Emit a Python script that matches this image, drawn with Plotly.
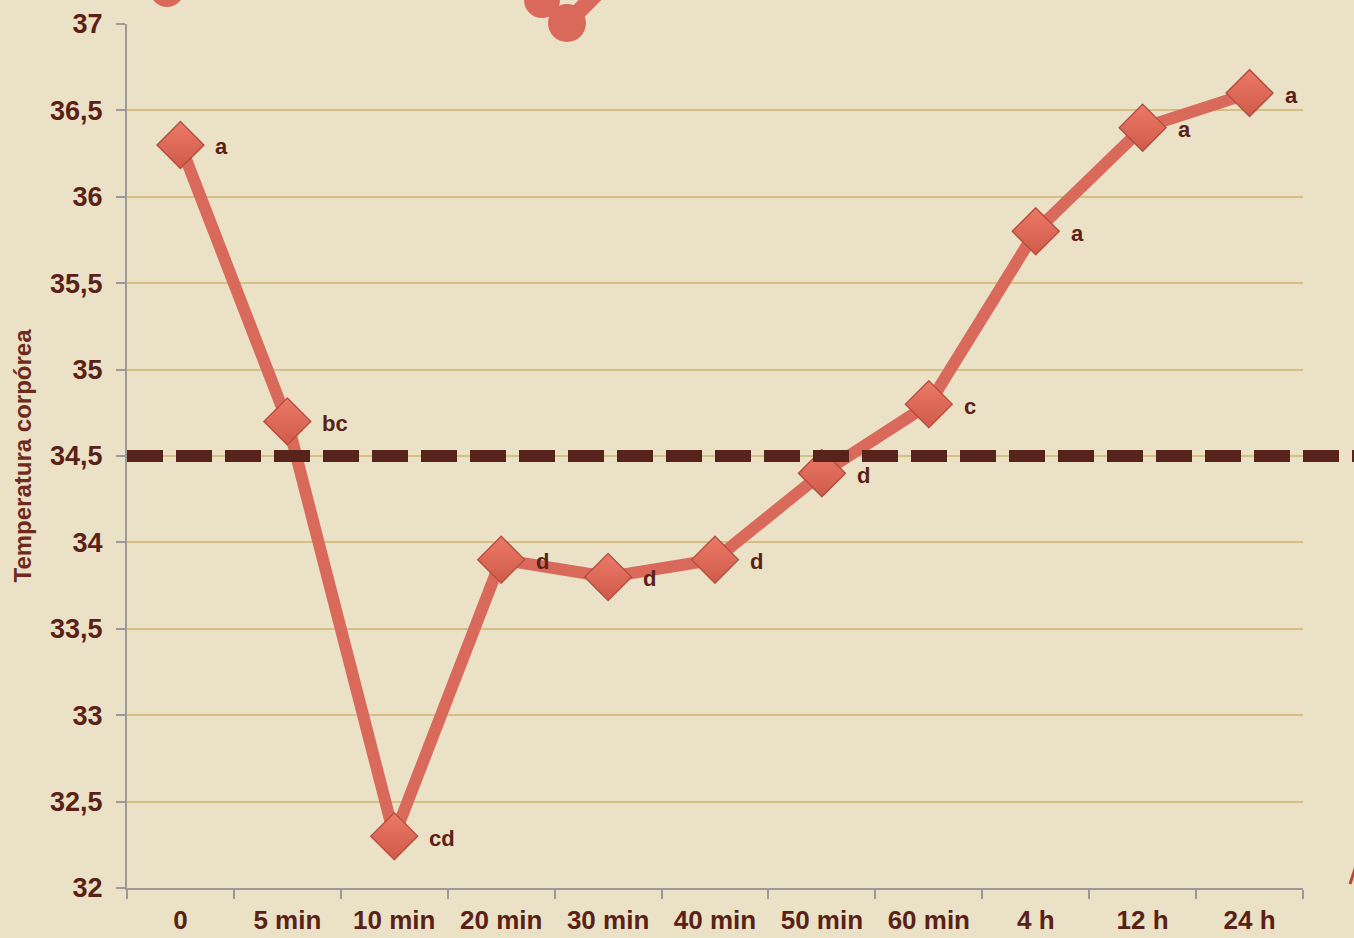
import plotly.graph_objects as go

categories = ["0", "5 min", "10 min", "20 min", "30 min", "40 min", "50 min", "60 min", "4 h", "12 h", "24 h"]
temperature = [36.3, 34.7, 32.3, 33.9, 33.8, 33.9, 34.4, 34.8, 35.8, 36.4, 36.6]
letters = ["a", "bc", "cd", "d", "d", "d", "d", "c", "a", "a", "a"]
y_tickvals = [32, 32.5, 33, 33.5, 34, 34.5, 35, 35.5, 36, 36.5, 37]
y_ticktext = ["32", "32,5", "33", "33,5", "34", "34,5", "35", "35,5", "36", "36,5", "37"]
threshold = 34.5

W, H = 1354, 938
L, R, T, B = 127, 1303, 24, 888
BROWN = "#5a2117"
BG = "#ebe1c6"
LINE = "#d9695a"
FONT = "Liberation Sans"

fig = go.Figure()

# marker shadow
fig.add_trace(go.Scatter(
    x=categories, y=temperature, mode="markers",
    marker=dict(symbol="diamond", size=38, color="rgba(90,60,40,0.22)", line=dict(width=0)),
    hoverinfo="skip", showlegend=False,
))
fig.add_trace(go.Scatter(
    x=categories, y=temperature, mode="lines+markers",
    line=dict(color=LINE, width=12),
    marker=dict(symbol="diamond", size=36, color="#ec7a68",
                gradient=dict(type="vertical", color="#cf5a4a"),
                line=dict(color="#b24a3c", width=1.2)),
    showlegend=False,
))

for c, v, t in zip(categories, temperature, letters):
    fig.add_annotation(x=c, y=v, text=t, showarrow=False, xanchor="left",
                       xshift=33, yshift=-2,
                       font=dict(family=FONT, size=22, color=BROWN, weight="bold"))

def px_x(p):
    return (p - L) / (R - L)

def px_y(p):
    return (B - p) / (B - T)

# dashed threshold line extending beyond plot area
fig.add_shape(type="line", xref="paper", yref="y",
              x0=0, x1=px_x(W + 5), y0=threshold, y1=threshold,
              line=dict(color="#58231a", width=12, dash="36px,13px"), layer="above")

# decorative partial blobs at the top
for cx, cy, r in [(167, -10, 17), (567, 23, 19), (542, 0, 18)]:
    fig.add_shape(type="circle", xref="paper", yref="paper",
                  x0=px_x(cx - r), x1=px_x(cx + r), y0=px_y(cy + r), y1=px_y(cy - r),
                  fillcolor=LINE, line=dict(width=0), layer="above")
fig.add_shape(type="line", xref="paper", yref="paper",
              x0=px_x(572), x1=px_x(600), y0=px_y(18), y1=px_y(-10),
              line=dict(color=LINE, width=16), layer="above")

# cut-off mark at the right edge
fig.add_shape(type="line", xref="paper", yref="paper",
              x0=px_x(1350), x1=px_x(1356), y0=px_y(884), y1=px_y(866),
              line=dict(color="#b8483a", width=3), layer="above")

fig.update_layout(
    width=W, height=H,
    margin=dict(l=L, r=W - R, t=T, b=H - B),
    paper_bgcolor=BG, plot_bgcolor=BG,
    showlegend=False,
    xaxis=dict(
        type="category", range=[-0.5, len(categories) - 0.5], automargin=False,
        tickson="boundaries", ticks="outside", ticklen=9, tickwidth=2, tickcolor="#a09898",
        showline=True, linecolor="#a09898", linewidth=2, showgrid=False, zeroline=False,
        tickfont=dict(family=FONT, size=26, color=BROWN, weight="bold"),
        ticklabelstandoff=8,
    ),
    yaxis=dict(
        range=[32, 37], tickvals=y_tickvals, ticktext=y_ticktext, automargin=False,
        ticks="outside", ticklen=9, tickwidth=2, tickcolor="#a09898",
        showline=True, linecolor="#a09898", linewidth=2,
        showgrid=True, gridcolor="#d6bf82", gridwidth=2, zeroline=False,
        tickfont=dict(family=FONT, size=27, color=BROWN, weight="bold"),
        ticklabelstandoff=8,
        title=dict(text="Temperatura corpórea", standoff=12,
                   font=dict(family=FONT, size=24, color="#6e2a1d", weight="bold")),
    ),
)

fig.write_html(
    "out.html",
    config={"displayModeBar": False},
    post_script="document.body.style.margin='0';document.body.style.padding='0';"
                "document.body.style.background='" + BG + "';",
)
